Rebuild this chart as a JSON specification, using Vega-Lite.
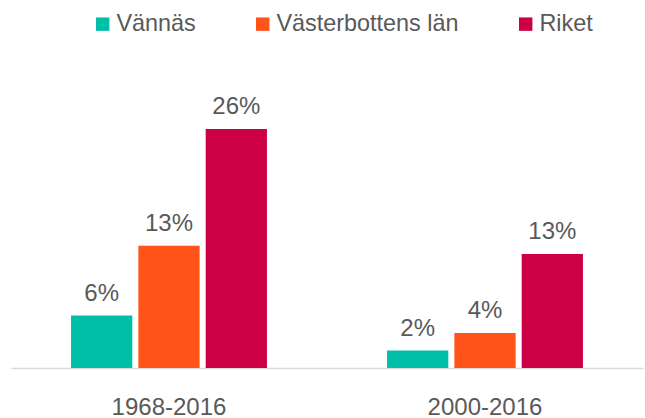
{
  "$schema": "https://vega.github.io/schema/vega-lite/v6.json",
  "width": 632,
  "height": 308,
  "autosize": "none",
  "padding": {"left": 11, "top": 60, "right": 2, "bottom": 50},
  "background": "white",
  "config": {
    "view": {"stroke": null},
    "font": "Liberation Sans"
  },
  "data": {
    "values": [
      {"period": "1968-2016", "region": "Vännäs", "value": 0.057, "label": "6%"},
      {"period": "1968-2016", "region": "Västerbottens län", "value": 0.133, "label": "13%"},
      {"period": "1968-2016", "region": "Riket", "value": 0.26, "label": "26%"},
      {"period": "2000-2016", "region": "Vännäs", "value": 0.019, "label": "2%"},
      {"period": "2000-2016", "region": "Västerbottens län", "value": 0.038, "label": "4%"},
      {"period": "2000-2016", "region": "Riket", "value": 0.124, "label": "13%"}
    ]
  },
  "encoding": {
    "x": {
      "field": "period", "type": "nominal", "sort": null,
      "scale": {"paddingInner": 0.38, "paddingOuter": 0.19},
      "axis": {
        "title": null, "labelAngle": 0, "labelFontSize": 24, "labelColor": "#595959",
        "labelPadding": 27, "ticks": false, "domainColor": "#d9d9d9", "domainWidth": 1.5
      }
    },
    "xOffset": {
      "field": "region", "type": "nominal",
      "sort": ["Vännäs", "Västerbottens län", "Riket"],
      "scale": {"paddingInner": 0.09, "paddingOuter": 0}
    },
    "y": {
      "field": "value", "type": "quantitative",
      "scale": {"domain": [0, 0.335]},
      "axis": null
    }
  },
  "layer": [
    {
      "mark": {"type": "bar"},
      "encoding": {
        "color": {
          "field": "region", "type": "nominal",
          "sort": ["Vännäs", "Västerbottens län", "Riket"],
          "scale": {
            "domain": ["Vännäs", "Västerbottens län", "Riket"],
            "range": ["#00BFA8", "#FF5319", "#CC0044"]
          },
          "legend": {
            "title": null, "orient": "none", "direction": "horizontal",
            "legendX": 80, "legendY": -48,
            "symbolType": "square", "symbolSize": 180, "symbolStrokeWidth": 0,
            "labelFontSize": 23.4, "labelColor": "#595959", "labelOffset": 2,
            "columnPadding": 55, "labelLimit": 300
          }
        }
      }
    },
    {
      "mark": {"type": "text", "baseline": "alphabetic", "dy": -15, "fontSize": 24, "color": "#595959"},
      "encoding": {
        "text": {"field": "label"}
      }
    }
  ]
}
